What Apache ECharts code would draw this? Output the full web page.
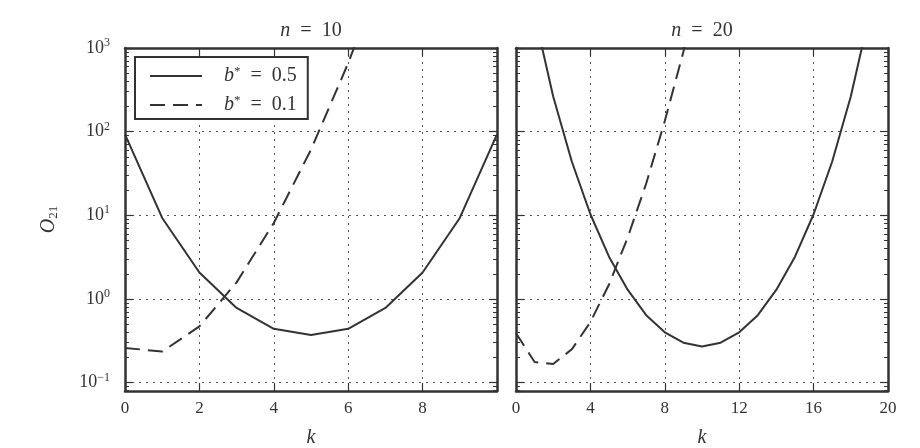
<!DOCTYPE html>
<html>
<head>
<meta charset="utf-8">
<script src="https://cdn.jsdelivr.net/npm/echarts@6/dist/echarts.min.js"></script>
<style>
html,body{margin:0;padding:0;background:#fff;}
#c{width:920px;height:448px;}
</style>
</head>
<body>
<div id="c"></div>
<script>
// ---- data ----
const kLeft = [0, 1, 2, 3, 4, 5, 6, 7, 8, 9, 10];
const leftHalf = [93, 9.3, 2.07, 0.78, 0.44, 0.37, 0.44, 0.78, 2.07, 9.3, 93];       // n=10, b*=0.5
const kLeftDash = [0, 1, 2, 3, 4, 5, 6, 7];
const leftTenth = [0.26, 0.235, 0.47, 1.58, 8.1, 61, 660, 10000];                   // n=10, b*=0.1
const kRight = [0, 1, 2, 3, 4, 5, 6, 7, 8, 9, 10, 11, 12, 13, 14, 15, 16, 17, 18, 19, 20];
const rightHalf = [50000, 2500, 263, 44, 10.3, 3.2, 1.29, 0.64, 0.40, 0.30, 0.27,
                   0.30, 0.40, 0.64, 1.29, 3.2, 10.3, 44, 263, 2500, 50000];        // n=20, b*=0.5
const kRightDash = [0, 1, 2, 3, 4, 5, 6, 7, 8, 9, 10];
const rightTenth = [0.39, 0.176, 0.167, 0.25, 0.53, 1.49, 5.4, 24, 134, 900, 7400]; // n=20, b*=0.1
const seriesNames = ['b* = 0.5', 'b* = 0.1'];
const panelTitles = ['10', '20'];
const yMin = 0.0794, yMax = 1000;
const minorTicks = [0.08, 0.09,
  0.2, 0.3, 0.4, 0.5, 0.6, 0.7, 0.8, 0.9,
  2, 3, 4, 5, 6, 7, 8, 9,
  20, 30, 40, 50, 60, 70, 80, 90,
  200, 300, 400, 500, 600, 700, 800, 900];

// ---- styling ----
const INK = '#333';
const FONT = 'Liberation Serif';
const FS = 17;
const BIG = 20;
const frame = { show: true, lineStyle: { color: INK, width: 2.5 } };
const gridLine = { show: true, lineStyle: { color: '#555', width: 1, type: [2, 5] } };
const supRich = {
  b: { fontFamily: FONT, fontSize: 18, color: INK },
  s: { fontFamily: FONT, fontSize: 12, color: INK, padding: [0, 0, 10, 0] }
};
function powLabel(v) {
  const e = Math.round(Math.log10(v));
  return '{b|10}{s|' + (e < 0 ? '\u2212' + (-e) : e) + '}';
}
const grids = [
  { left: 125, right: 423, top: 48, bottom: 57, outerBoundsMode: 'none', containLabel: false },
  { left: 516, right: 32, top: 48, bottom: 57, outerBoundsMode: 'none', containLabel: false }
];
function xAxes(gi, max, interval, showMax) {
  return [
    { type: 'value', gridIndex: gi, position: 'bottom', min: 0, max: max, interval: interval,
      axisLine: frame, axisTick: { show: true, inside: true, length: 8, lineStyle: { color: INK, width: 1.2 } },
      splitLine: gridLine,
      axisLabel: { fontFamily: FONT, fontSize: FS, color: INK, margin: 9, showMaxLabel: showMax },
      name: 'k', nameLocation: 'middle', nameGap: 37,
      nameTextStyle: { fontFamily: FONT, fontSize: BIG, fontStyle: 'italic', color: INK } },
    { type: 'value', gridIndex: gi, position: 'top', min: 0, max: max, interval: interval,
      axisLine: frame, axisTick: { show: true, inside: true, length: 8, lineStyle: { color: INK, width: 1.2 } },
      splitLine: { show: false }, axisLabel: { show: false } }
  ];
}
function yAxes(gi, labels) {
  const base = { type: 'log', gridIndex: gi, min: yMin, max: yMax, splitNumber: 4 };
  const major = { show: true, inside: true, length: 8, lineStyle: { color: INK, width: 1.2 } };
  const minor = { show: true, inside: true, length: 4, lineStyle: { color: INK, width: 1 }, customValues: minorTicks };
  const first = Object.assign({}, base, {
    position: 'left', axisLine: frame, axisTick: major, splitLine: gridLine,
    axisLabel: labels ? { show: true, formatter: powLabel, rich: supRich, fontFamily: FONT, fontSize: 18,
      color: INK, margin: 15, showMinLabel: false } : { show: false }
  });
  if (labels) {
    first.name = '{o|O}{u|21}';
    first.nameLocation = 'middle';
    first.nameGap = 65;
    first.nameRotate = 90;
    first.nameTextStyle = { fontFamily: FONT, fontSize: BIG, color: INK, rich: {
      o: { fontFamily: FONT, fontSize: BIG, fontStyle: 'italic', color: INK },
      u: { fontFamily: FONT, fontSize: 13, color: INK, padding: [9, 0, 0, 0] }
    } };
  }
  return [
    first,
    Object.assign({}, base, { position: 'left', axisLine: { show: false }, axisTick: minor, splitLine: { show: false }, axisLabel: { show: false } }),
    Object.assign({}, base, { position: 'right', axisLine: frame, axisTick: major, splitLine: { show: false }, axisLabel: { show: false } }),
    Object.assign({}, base, { position: 'right', axisLine: { show: false }, axisTick: minor, splitLine: { show: false }, axisLabel: { show: false } })
  ];
}
function pairs(ks, vs) { return ks.map((k, i) => [k, vs[i]]); }
function lineSeries(name, xi, yi, data, dashed) {
  return { name: name, type: 'line', xAxisIndex: xi, yAxisIndex: yi, data: data,
    symbol: 'none', showSymbol: false, clip: true, z: 5,
    lineStyle: { color: INK, width: 2, type: dashed ? [15, 8] : 'solid' },
    itemStyle: { color: INK } };
}
const legendRich = {
  g: { width: 17 },
  i: { fontFamily: FONT, fontSize: BIG, fontStyle: 'italic', color: INK },
  s: { fontFamily: FONT, fontSize: 13, color: INK, padding: [0, 0, 9, 0] },
  t: { fontFamily: FONT, fontSize: BIG, color: INK }
};
function titleText(x, val) {
  return { type: 'text', x: x, y: 31, z: 10,
    style: { text: '{i|n}{t|  =  ' + val + '}', align: 'center', verticalAlign: 'middle',
      rich: { i: { fontFamily: FONT, fontSize: BIG, fontStyle: 'italic', fill: INK },
              t: { fontFamily: FONT, fontSize: BIG, fill: INK } } } };
}

const chart = echarts.init(document.getElementById('c'), null, { renderer: 'canvas' });
chart.setOption({
  animation: false,
  backgroundColor: '#fff',
  grid: grids,
  xAxis: xAxes(0, 10, 2, false).concat(xAxes(1, 20, 4, true)),
  yAxis: yAxes(0, true).concat(yAxes(1, false)),
  legend: {
    orient: 'vertical', left: 135, top: 57,
    data: seriesNames,
    borderColor: INK, borderWidth: 2, borderRadius: 0,
    padding: [8, 11, 4, 14], itemGap: 8, itemWidth: 52, itemHeight: 20,
    selectedMode: false, backgroundColor: '#fff',
    itemStyle: { opacity: 0 },
    formatter: function (n) {
      const v = n.split('= ')[1];
      return '{g|}{i|b}{s|*}{t|  =  ' + v + '}';
    },
    textStyle: { fontFamily: FONT, fontSize: BIG, color: INK, rich: legendRich }
  },
  graphic: [titleText(311, panelTitles[0]), titleText(702, panelTitles[1])],
  series: [
    lineSeries(seriesNames[0], 0, 0, pairs(kLeft, leftHalf), false),
    lineSeries(seriesNames[1], 0, 0, pairs(kLeftDash, leftTenth), true),
    lineSeries(seriesNames[0], 2, 4, pairs(kRight, rightHalf), false),
    lineSeries(seriesNames[1], 2, 4, pairs(kRightDash, rightTenth), true)
  ]
});
</script>
</body>
</html>
